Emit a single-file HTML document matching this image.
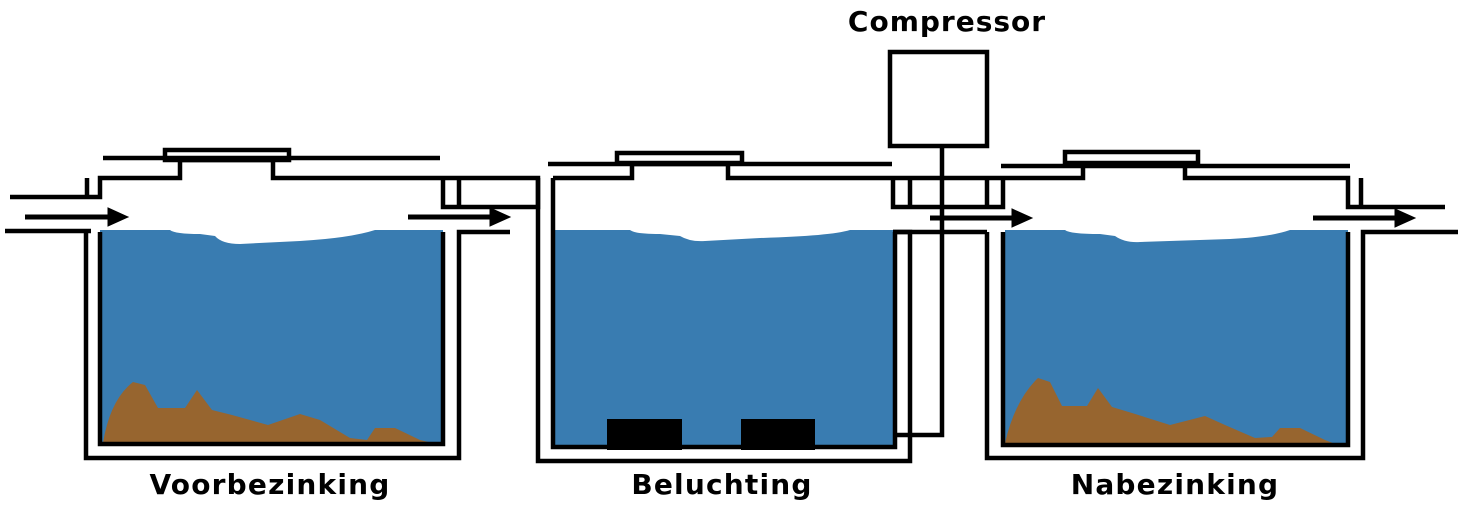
<!DOCTYPE html>
<html><head><meta charset="utf-8"><style>
html,body{margin:0;padding:0;background:#fff;}
svg{display:block;}
text{font-family:"DejaVu Sans","Liberation Sans",sans-serif;font-weight:bold;fill:#000;}
</style></head><body>
<svg width="1460" height="532" viewBox="0 0 1460 532" xmlns="http://www.w3.org/2000/svg">
<rect x="100" y="230" width="343" height="214" fill="#397cb1"/>
<rect x="553" y="230" width="342" height="217" fill="#397cb1"/>
<rect x="1005" y="230" width="343" height="215" fill="#397cb1"/>
<path d="M170 230 Q175 234 200 234 L215 236 Q222 244 240 244 L300 241 Q350 238 375 230 Z" fill="#fff"/>
<path d="M630 230 Q635 234 660 234 L680 236 Q690 242 705 241 L760 238 Q830 236 850 230 Z" fill="#fff"/>
<path d="M1065 230 Q1070 234 1100 234 L1115 236 Q1125 243 1140 242 L1230 239 Q1270 237 1290 230 Z" fill="#fff"/>
<path d="M103 443 Q110 400 133 382 L145 385 L158 408 L185 408 L197 390 L212 410 L232 415 L268 425 L300 414 L320 420 L350 438 L367 440 L375 428 L395 428 L420 440 L437 444 Z" fill="#97652f"/>
<path d="M1005 443 Q1015 400 1038 378 L1050 382 L1062 406 L1087 406 L1098 388 L1112 407 L1132 413 L1170 425 L1205 416 L1225 425 L1255 438 L1272 437 L1280 428 L1300 428 L1325 440 L1338 445 Z" fill="#97652f"/>
<rect x="607" y="419" width="75" height="31" fill="#000"/>
<rect x="741" y="419" width="74" height="31" fill="#000"/>
<g fill="none" stroke="#000" stroke-width="4.5">
<path d="M86 232 V458 H459 V232 H510"/>
<path d="M100 232 V444 H443 V232"/>
<path d="M5 231 H91"/>
<path d="M10 197 H100 V178 H180 V160 H273 V178 H538 V207 H443 V178"/>
<path d="M87 178 V197"/>
<path d="M459 178 V207"/>
<rect x="165" y="150" width="124" height="10"/>
<path d="M103 158 H440"/>
<path d="M538 178 V461 H910 V232 H893"/>
<path d="M553 178 V447 H895 V232"/>
<path d="M553 178 H632 V164 H728 V178 H1003"/>
<rect x="617" y="153" width="125" height="10"/>
<path d="M548 164 H892"/>
<path d="M893 178 V207 H1003 V178"/>
<path d="M910 178 V207"/>
<path d="M987 178 V207"/>
<path d="M987 232 V458 H1363 V232 H1458"/>
<path d="M1003 232 V445 H1348 V232"/>
<path d="M1003 178 H1083 V164 H1185 V178 H1348 V207 H1445"/>
<rect x="1065" y="152" width="133" height="11"/>
<path d="M1001 166 H1350"/>
<path d="M1361 178 V205"/>
<rect x="890" y="52" width="97" height="94"/>
<path d="M942 146 V435 H897"/>
<path d="M893 232 H987"/>
</g>
<g fill="#000" stroke="#000">
<path d="M25 217 H110" stroke-width="5"/><path d="M108 208 L128 217 L108 226 Z"/>
<path d="M408 217 H492" stroke-width="5"/><path d="M490 208 L510 217 L490 226 Z"/>
<path d="M930 218 H1014" stroke-width="5"/><path d="M1012 209 L1032 218 L1012 227 Z"/>
<path d="M1313 218 H1397" stroke-width="5"/><path d="M1395 209 L1415 218 L1395 227 Z"/>
</g>
<text x="947" y="31" font-size="28" letter-spacing="1" text-anchor="middle">Compressor</text>
<text x="270" y="494" font-size="28" letter-spacing="1.2" text-anchor="middle">Voorbezinking</text>
<text x="722" y="494" font-size="28" letter-spacing="1.2" text-anchor="middle">Beluchting</text>
<text x="1175" y="494" font-size="28" letter-spacing="1.2" text-anchor="middle">Nabezinking</text>
</svg>
</body></html>
